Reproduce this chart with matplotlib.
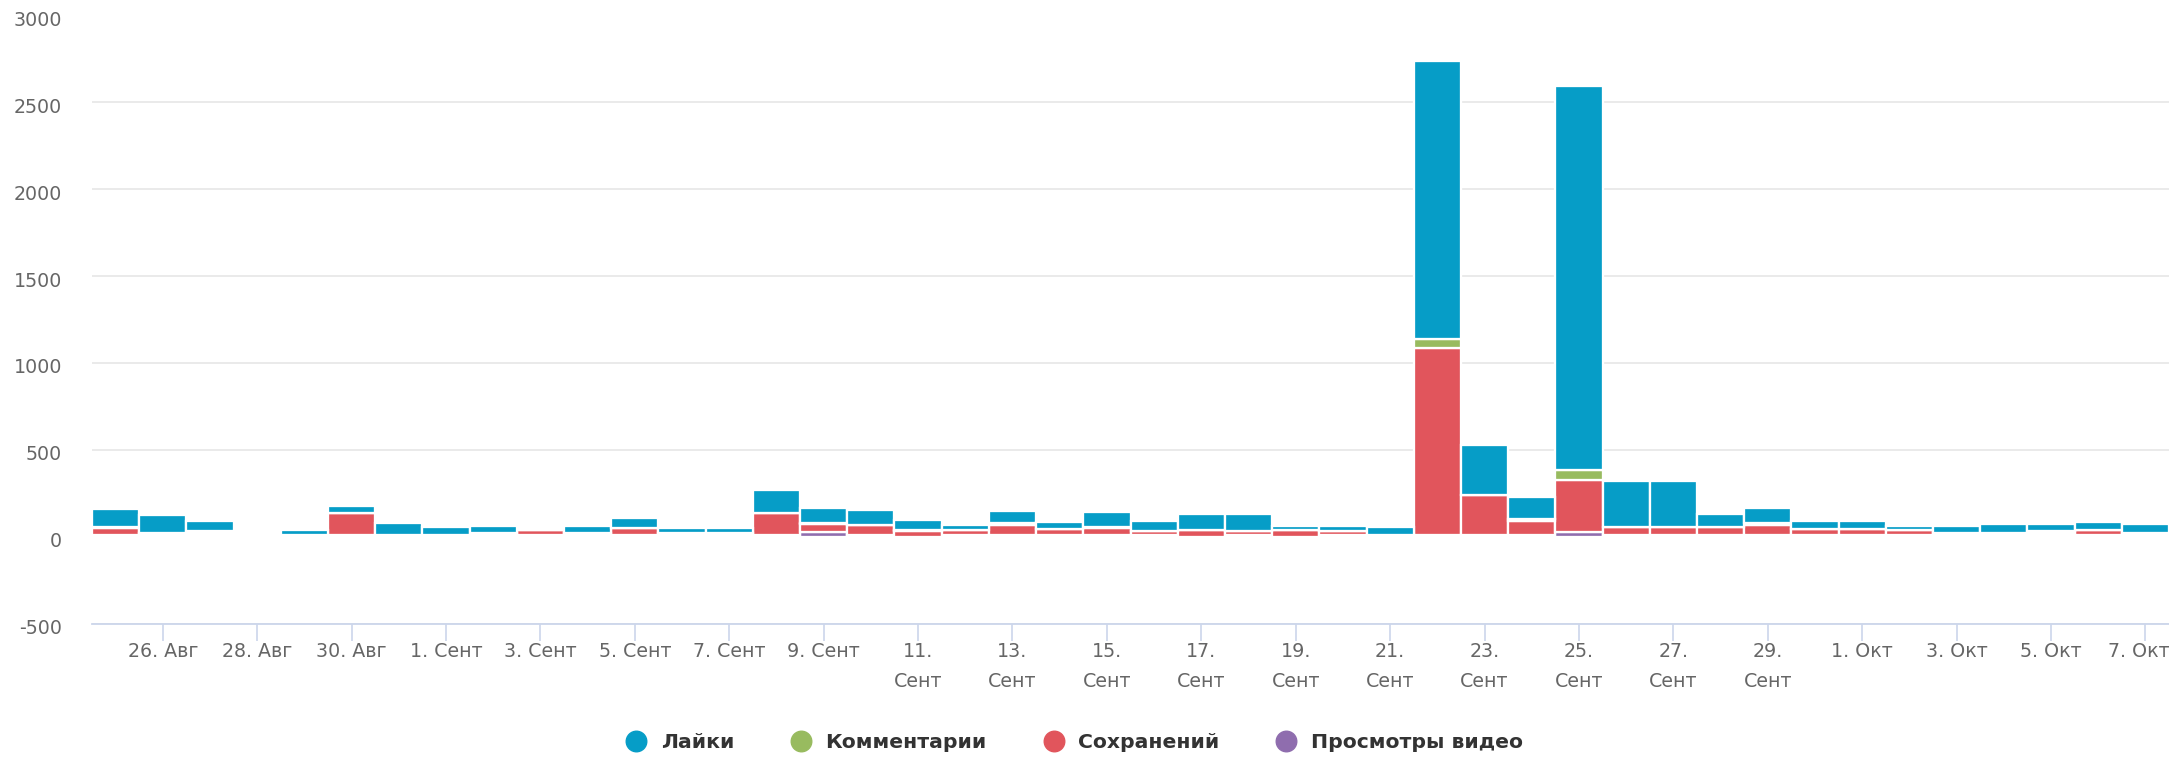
import numpy as np
import matplotlib
matplotlib.use("Agg")
import matplotlib.pyplot as plt
from matplotlib.lines import Line2D
from matplotlib.transforms import ScaledTranslation

# ---- data -------------------------------------------------------------
dates = ["25.08", "26.08", "27.08", "28.08", "29.08", "30.08", "31.08",
         "01.09", "02.09", "03.09", "04.09", "05.09", "06.09", "07.09",
         "08.09", "09.09", "10.09", "11.09", "12.09", "13.09", "14.09",
         "15.09", "16.09", "17.09", "18.09", "19.09", "20.09", "21.09",
         "22.09", "23.09", "24.09", "25.09", "26.09", "27.09", "28.09",
         "29.09", "30.09", "01.10", "02.10", "03.10", "04.10", "05.10",
         "06.10", "07.10"]

likes = [104, 102, 58, 0, 28, 35, 71, 48, 38, 0, 38, 57, 26, 26,
         129, 87, 82, 57, 33, 68, 37, 82, 56, 92, 93, 25, 25, 45,
         1595, 288, 126, 2212, 264, 264, 70, 83, 46, 46, 24, 37, 48, 37,
         47, 48]
comments = [9, 12, 12, 0, 0, 0, 0, 0, 13, 0, 13, 0, 13, 13,
            0, 4, 0, 2, 0, 13, 0, 10, 0, 0, 0, 0, 0, 0,
            55, 0, 10, 58, 0, 0, 0, 10, 0, 0, 0, 13, 13, 12,
            0, 13]
saves = [38, 0, 12, 0, 0, 129, 0, 0, 0, 28, 0, 38, 0, 0,
         129, 47, 59, 36, 27, 58, 37, 38, 25, 37, 25, 37, 25, 0,
         1074, 230, 82, 298, 47, 47, 48, 60, 37, 37, 26, 0, 0, 12,
         26, 0]
video_views = [12, 12, 12, 0, 12, 12, 12, 12, 12, 12, 12, 12, 12, 12,
               12, 28, 12, 1, 12, 12, 12, 12, 12, 3, 12, 3, 12, 12,
               12, 12, 12, 28, 12, 12, 12, 12, 12, 12, 12, 12, 12, 12,
               12, 12]

series_names = ["Лайки", "Комментарии", "Сохранений", "Просмотры видео"]
series_colors = ["#069dc7", "#98bb5f", "#e1555c", "#8f6dae"]

tick_idx = list(range(1, 44, 2))
tick_labels = ["26. Авг", "28. Авг", "30. Авг", "1. Сент", "3. Сент",
               "5. Сент", "7. Сент", "9. Сент", "11.\nСент", "13.\nСент",
               "15.\nСент", "17.\nСент", "19.\nСент", "21.\nСент",
               "23.\nСент", "25.\nСент", "27.\nСент", "29.\nСент",
               "1. Окт", "3. Окт", "5. Окт", "7. Окт"]

# ---- figure -----------------------------------------------------------
W, H = 2169, 759
fig = plt.figure(figsize=(W / 100, H / 100), dpi=100)
left_px, right_px, top_px, bot_px = 92, 2169, 15.5, 624
ax = fig.add_axes([left_px / W, 1 - bot_px / H,
                   (right_px - left_px) / W, (bot_px - top_px) / H])

x = np.arange(len(dates))
edge_lw = 1.65
# stack bottom -> top: video views, saves, comments, likes
stack = [(video_views, series_colors[3]), (saves, series_colors[2]),
         (comments, series_colors[1]), (likes, series_colors[0])]
bottom = np.zeros(len(dates))
for vals, col in stack:
    v = np.array(vals, dtype=float)
    ax.bar(x, v, width=1.0, bottom=bottom, color=col, edgecolor="white",
           linewidth=edge_lw, zorder=2)
    bottom += v

ax.set_xlim(-0.5, len(dates) - 0.5)
ax.set_ylim(-500, 3000)
ax.set_yticks(np.arange(-500, 3001, 500))
ax.set_yticklabels([str(v) for v in range(-500, 3001, 500)])
ax.set_axisbelow(True)
ax.yaxis.grid(True, color="#e6e6e6", linewidth=1.2, zorder=0)
ax.xaxis.grid(False)

for s in ["top", "right", "left"]:
    ax.spines[s].set_visible(False)
ax.spines["bottom"].set_color("#ccd6eb")
ax.spines["bottom"].set_linewidth(1.3)
ax.spines["bottom"].set_position(("data", -500))

ax.tick_params(axis="y", length=0, pad=21.5, labelsize=13.7,
               labelcolor="#666666")
for lab in ax.get_yticklabels():
    lab.set_transform(lab.get_transform() +
                      ScaledTranslation(0, -2 / 72, fig.dpi_scale_trans))

ax.set_xticks(tick_idx)
ax.set_xticklabels(tick_labels, linespacing=1.68)
ax.tick_params(axis="x", length=12.2, width=1.2, color="#ccd6eb", pad=1,
               labelsize=13.7, labelcolor="#666666")
last = ax.get_xticklabels()[-1]
last.set_transform(last.get_transform() +
                   ScaledTranslation(-7 / 100, 0, fig.dpi_scale_trans))

handles = [Line2D([0], [0], marker="o", linestyle="none", markersize=14.8,
                  markerfacecolor=c, markeredgecolor=c)
           for c in series_colors]
leg = fig.legend(handles, series_names, loc="center",
                 bbox_to_anchor=(0.5 - 10 / W, 1 - 743 / H), ncol=4,
                 frameon=False, prop={"weight": "bold", "size": 14.7},
                 handlelength=1.0, handletextpad=0.7, columnspacing=2.78,
                 labelcolor="#333333", borderaxespad=0, borderpad=0)

fig.savefig("out.png", dpi=100, facecolor="white")
